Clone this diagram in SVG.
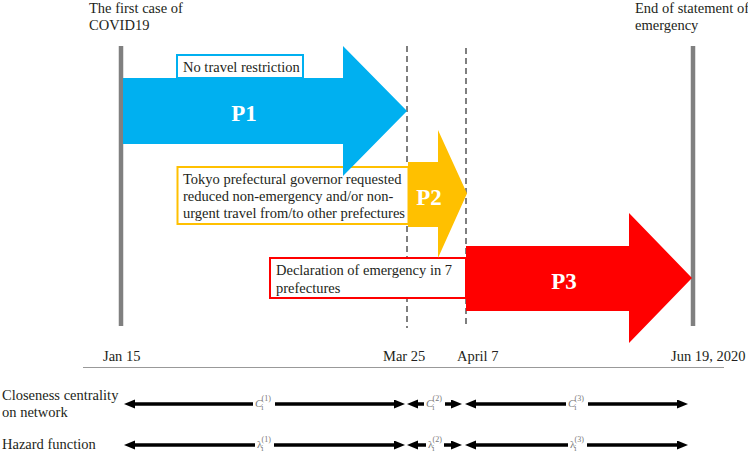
<svg xmlns="http://www.w3.org/2000/svg" width="748" height="454" viewBox="0 0 748 454">
<style>
text{font-family:"Liberation Serif","Times New Roman",serif;fill:#231f20}
.t{font-size:14.5px}
.big{font-size:23px;font-weight:bold;fill:#fff;text-anchor:middle}
.bar{stroke:#808080;stroke-width:4.5}
.dash{stroke:#7f7f7f;stroke-width:2;stroke-dasharray:6,4}
.conn{stroke:#000;stroke-width:3.5;fill:none}
.lbl{font-size:11px;fill:#777;font-style:italic}
.lbl tspan.s{font-size:8px;font-style:normal}
</style>
<defs>
<marker id="ah" markerUnits="userSpaceOnUse" markerWidth="12" markerHeight="10" refX="3" refY="4.5" orient="auto-start-reverse">
<path d="M0,0 L11,4.5 L0,9 z" fill="#000"/>
</marker>
</defs>

<g id="bars">
<line class="bar" x1="121" y1="46" x2="121" y2="326"/>
<line class="bar" x1="693" y1="46" x2="693" y2="326"/>
<line class="dash" x1="407" y1="46" x2="407" y2="328"/>
<line class="dash" x1="466" y1="48" x2="466" y2="328"/>
<line x1="83" y1="367.5" x2="724" y2="367.5" stroke="#999" stroke-width="1"/>
</g>

<g id="header-left"><text class="t" x="89" y="13">The first case of</text><text class="t" x="89" y="30">COVID19</text></g>
<g id="header-right"><text class="t" x="635" y="13">End of statement of</text><text class="t" x="635" y="30">emergency</text></g>

<g id="box-tokyo">
<rect x="177.5" y="167" width="231" height="57" fill="#fff" stroke="#FFC000" stroke-width="2"/>
<text class="t" x="183" y="184">Tokyo prefectural governor requested</text>
<text class="t" x="183" y="201">reduced non-emergency and/or non-</text>
<text class="t" x="183" y="218">urgent travel from/to other prefectures</text>
</g>

<g id="box-decl">
<rect x="270" y="258" width="196" height="40" fill="#fff" stroke="#FF0000" stroke-width="2"/>
<text class="t" x="276" y="275">Declaration of emergency in 7</text>
<text class="t" x="276" y="293">prefectures</text>
</g>

<g id="P1">
<polygon points="123,78 343,78 343,46 407,111 343,176 343,144 123,144" fill="#00B0F0"/>
<rect x="177" y="55" width="126" height="23" fill="#fff" stroke="#00B0F0" stroke-width="2"/>
<text class="t" x="183" y="72">No travel restriction</text>
<text class="big" x="244" y="121">P1</text>
</g>

<g id="P2">
<polygon points="408,162 438,162 438,130 467,193.5 438,258 438,227 408,227" fill="#FFC000"/>
<text class="big" x="429" y="205">P2</text>
</g>

<g id="P3">
<polygon points="466,246 629,246 629,213 692,278 629,343 629,311 466,311" fill="#FF0000"/>
<text class="big" x="564" y="289">P3</text>
</g>

<g id="dates">
<text class="t" x="103" y="361">Jan 15</text>
<text class="t" x="383" y="361">Mar 25</text>
<text class="t" x="457" y="361">April 7</text>
<text class="t" x="671" y="361">Jun 19, 2020</text>
</g>

<g id="row-labels">
<text class="t" x="2" y="400">Closeness centrality</text>
<text class="t" x="2" y="417">on network</text>
<text class="t" x="2" y="449">Hazard function</text>
</g>

<g id="connectors">
<line class="conn" x1="132" y1="404" x2="397" y2="404" marker-start="url(#ah)" marker-end="url(#ah)"/>
<line class="conn" x1="415" y1="404" x2="454" y2="404" marker-start="url(#ah)" marker-end="url(#ah)"/>
<line class="conn" x1="473" y1="404" x2="680" y2="404" marker-start="url(#ah)" marker-end="url(#ah)"/>
<line class="conn" x1="132" y1="445" x2="397" y2="445" marker-start="url(#ah)" marker-end="url(#ah)"/>
<line class="conn" x1="415" y1="445" x2="454" y2="445" marker-start="url(#ah)" marker-end="url(#ah)"/>
<line class="conn" x1="473" y1="445" x2="680" y2="445" marker-start="url(#ah)" marker-end="url(#ah)"/>
<g fill="#fff">
<rect x="253" y="394" width="22" height="20"/>
<rect x="424" y="394" width="21" height="20"/>
<rect x="566" y="394" width="22" height="20"/>
<rect x="255" y="435" width="19" height="20"/>
<rect x="426" y="435" width="18" height="20"/>
<rect x="568" y="435" width="19" height="20"/>
</g>
<text class="lbl" x="255" y="407">C<tspan class="s" dx="-1" dy="3">i</tspan><tspan class="s" dx="-2" dy="-9">(1)</tspan></text>
<text class="lbl" x="426" y="407">C<tspan class="s" dx="-1" dy="3">i</tspan><tspan class="s" dx="-2" dy="-9">(2)</tspan></text>
<text class="lbl" x="568" y="407">C<tspan class="s" dx="-1" dy="3">i</tspan><tspan class="s" dx="-2" dy="-9">(3)</tspan></text>
<text class="lbl" x="257" y="448" style="font-style:normal">λ<tspan class="s" dx="-1" dy="3">i</tspan><tspan class="s" dx="-2" dy="-9">(1)</tspan></text>
<text class="lbl" x="428" y="448" style="font-style:normal">λ<tspan class="s" dx="-1" dy="3">i</tspan><tspan class="s" dx="-2" dy="-9">(2)</tspan></text>
<text class="lbl" x="570" y="448" style="font-style:normal">λ<tspan class="s" dx="-1" dy="3">i</tspan><tspan class="s" dx="-2" dy="-9">(3)</tspan></text>
</g>
</svg>
